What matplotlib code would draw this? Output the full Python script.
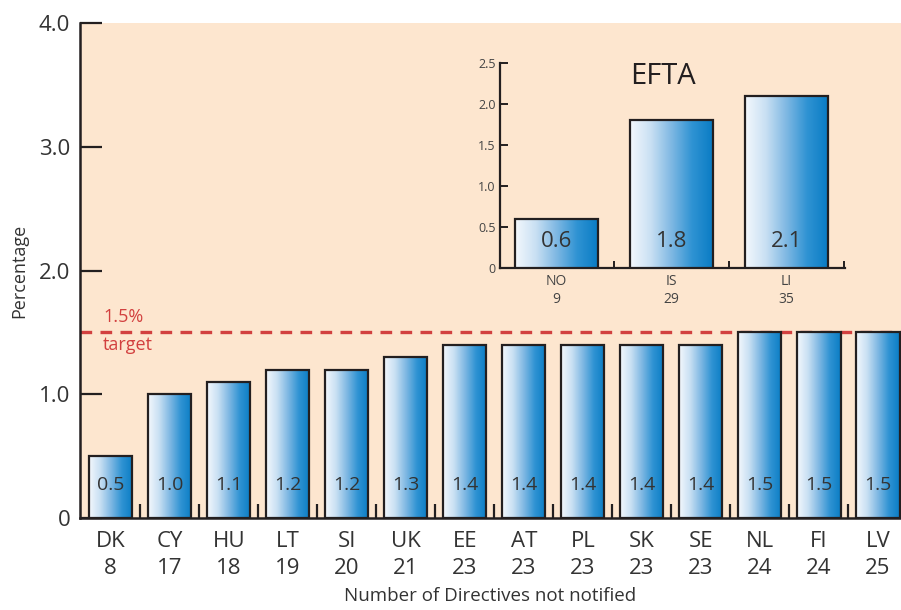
import numpy as np
import matplotlib

matplotlib.use("Agg")
from matplotlib import pyplot as plt
from matplotlib.colors import LinearSegmentedColormap
from matplotlib.ticker import FixedLocator

plt.rcParams["font.family"] = ["Open Sans", "DejaVu Sans"]

# main chart: EU member states
countries = ["DK", "CY", "HU", "LT", "SI", "UK", "EE", "AT", "PL", "SK", "SE", "NL", "FI", "LV"]
not_notified = [8, 17, 18, 19, 20, 21, 23, 23, 23, 23, 23, 24, 24, 25]
percentages = [0.5, 1.0, 1.1, 1.2, 1.2, 1.3, 1.4, 1.4, 1.4, 1.4, 1.4, 1.5, 1.5, 1.5]
target = 1.5

# inset: EFTA states
efta_countries = ["NO", "IS", "LI"]
efta_not_notified = [9, 29, 35]
efta_percentages = [0.6, 1.8, 2.1]

PEACH = "#fde6cf"
INK = "#231f20"
TEXT = "#333333"
RED = "#d2403f"

bar_cmap = LinearSegmentedColormap.from_list(
    "bar", ["#f4f8fd", "#c9e0f3", "#7fb8e3", "#2f93d3", "#0a7cc4"]
)
gradient = np.linspace(0, 1, 256).reshape(1, -1)


def gradient_bars(ax, values, width, edge_lw):
    for i, v in enumerate(values):
        x0, x1 = i - width / 2, i + width / 2
        ax.imshow(gradient, extent=[x0, x1, 0, v], aspect="auto", cmap=bar_cmap,
                  origin="lower", zorder=3, interpolation="bicubic")
    ax.bar(range(len(values)), values, width=width, facecolor="none",
           edgecolor=INK, linewidth=edge_lw, zorder=4)


fig = plt.figure(figsize=(9.01, 6.10), dpi=100)

ax = fig.add_axes([0.0888, 0.1508, 0.9112, 0.811])
ax.set_facecolor(PEACH)
gradient_bars(ax, percentages, 0.73, 1.6)
for i, v in enumerate(percentages):
    ax.text(i, 0.27, f"{v:.1f}", ha="center", va="center", fontsize=14, color=TEXT, zorder=5)

ax.axhline(target, color=RED, linestyle=(0, (3.5, 2.5)), linewidth=2.4, zorder=2)
ax.text(-0.13, target + 0.05, "1.5%", color=RED, fontsize=13, ha="left", va="bottom")
ax.text(-0.13, target - 0.03, "target", color=RED, fontsize=13, ha="left", va="top")

ax.set_xlim(-0.52, len(countries) - 1 + 0.39)
ax.set_ylim(0, 4.0)
ax.set_yticks([0, 1, 2, 3, 4])
ax.set_yticklabels(["0", "1.0", "2.0", "3.0", "4.0"])
ax.set_xticks(range(len(countries)))
ax.set_xticklabels([f"{c}\n{n}" for c, n in zip(countries, not_notified)], linespacing=1.4)
ax.xaxis.set_minor_locator(FixedLocator(np.arange(0.5, len(countries) - 1, 1.0)))
ax.tick_params(axis="y", direction="in", length=16, width=1.6, color=INK,
               labelsize=16, labelcolor=TEXT, pad=7)
ax.tick_params(axis="x", which="major", length=0, labelsize=16, labelcolor=TEXT, pad=9)
ax.tick_params(axis="x", which="minor", direction="in", length=10, width=1.6, color=INK)
for side in ["top", "right"]:
    ax.spines[side].set_visible(False)
for side in ["left", "bottom"]:
    ax.spines[side].set_color(INK)
    ax.spines[side].set_linewidth(1.8)
ax.set_ylabel("Percentage", fontsize=13, color=TEXT, labelpad=8)
ax.set_xlabel("Number of Directives not notified", fontsize=13.5, color=TEXT, labelpad=6)

# EFTA inset
ins = fig.add_axes([0.555, 0.5607, 0.383, 0.336])
ins.patch.set_alpha(0)
gradient_bars(ins, efta_percentages, 0.72, 1.6)
for i, v in enumerate(efta_percentages):
    ins.text(i, 0.32, f"{v:.1f}", ha="center", va="center", fontsize=16, color=TEXT, zorder=5)
ins.text(0.93, 2.33, "EFTA", fontsize=21, color=INK, ha="center", va="center")
ins.set_xlim(-0.49, 2.51)
ins.set_ylim(0, 2.5)
ins.set_yticks([0, 0.5, 1.0, 1.5, 2.0, 2.5])
ins.set_yticklabels(["0", "0.5", "1.0", "1.5", "2.0", "2.5"])
ins.set_xticks(range(len(efta_countries)))
ins.set_xticklabels([f"{c}\n{n}" for c, n in zip(efta_countries, efta_not_notified)], linespacing=1.35)
ins.xaxis.set_minor_locator(FixedLocator([0.5, 1.5, 2.5]))
ins.tick_params(axis="y", direction="in", length=6, width=1.4, color=INK,
                labelsize=9, labelcolor="#444444", pad=3)
ins.tick_params(axis="x", which="major", length=0, labelsize=10, labelcolor="#444444", pad=4)
ins.tick_params(axis="x", which="minor", direction="in", length=5, width=1.4, color=INK)
for side in ["top", "right"]:
    ins.spines[side].set_visible(False)
for side in ["left", "bottom"]:
    ins.spines[side].set_color(INK)
    ins.spines[side].set_linewidth(1.6)

fig.savefig("out.png", dpi=100)
